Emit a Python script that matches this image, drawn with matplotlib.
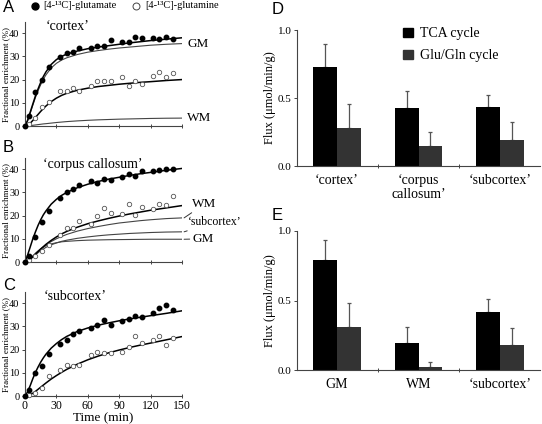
import numpy as np
import matplotlib
matplotlib.use("Agg")
import matplotlib.pyplot as plt
from matplotlib.lines import Line2D
from matplotlib.patches import Rectangle

plt.rcParams['font.family'] = ['Liberation Serif', 'DejaVu Serif']
plt.rcParams['axes.linewidth'] = 0.8

# --- time course data (A, B, C) ---
t_obs = [0, 3.5, 10, 16, 22.5, 33.5, 40, 46, 52, 63, 69, 75.5, 82, 93, 99, 105.5, 112, 122, 128.5, 135, 141.5]

glu_cortex = [0, 4.4, 14.8, 19.8, 25.5, 29.7, 31.3, 31.8, 33.7, 33.4, 34.4, 34.3, 37, 36.4, 36.4, 38.4, 38, 38, 37.4, 38.4, 37.3]
gln_cortex = [0, 0.8, 3.3, 8.2, 10.3, 15.1, 15.1, 16.5, 15.1, 17.2, 19.6, 19.4, 19.5, 20.9, 17.3, 19.2, 18.3, 21.5, 23.1, 20.9, 23]
glu_cc = [0, 2.4, 10.9, 17.3, 22.1, 27.4, 30, 31.3, 33, 34.7, 34, 35.9, 35.4, 36.7, 37.8, 37.1, 39, 39.3, 39.7, 40.2, 40.2]
gln_cc = [0, 0.8, 2.8, 4.7, 7.3, 11.6, 14.8, 14.5, 17.8, 16.3, 19.9, 23.3, 20.9, 20.8, 25.1, 20.2, 23.7, 22.7, 25.1, 24.7, 28.4]
glu_sub = [0, 2.4, 10, 12.9, 18, 22.3, 24.2, 26.7, 28.1, 29.1, 30.4, 32.9, 30.7, 32.5, 33.2, 34.5, 33.9, 35.7, 38, 39, 37]
gln_sub = [0, 0.5, 1.5, 3.5, 8.5, 11, 13.2, 12.8, 13.5, 17.5, 19, 18.7, 18.7, 19, 20.9, 25.8, 23, 24.2, 25.8, 22, 25.2]

# fitted / model curves
t_fit = [0, 2.5, 5, 7.5, 10, 12.5, 15, 17.5, 20, 25, 30, 35, 40, 50, 60, 70, 80, 90, 100, 110, 120, 135, 150]
fit_glu_cortex = [0, 2.5, 6, 9.5, 13, 16, 18.8, 21.3, 23.3, 26.5, 28.6, 30, 31, 32.3, 33.3, 34, 34.6, 35.2, 35.8, 36.3, 36.8, 37.4, 38]
fit_gln_cortex = [0, 0.4, 1.2, 2.4, 3.7, 5, 6.3, 7.5, 8.6, 10.5, 12, 13.2, 14.1, 15.4, 16.3, 17, 17.5, 18, 18.4, 18.8, 19.1, 19.6, 20]
model_gm_a = [0, 2.2, 5.5, 9, 12.3, 15.2, 17.8, 20.1, 22, 25, 27, 28.4, 29.4, 30.8, 31.8, 32.5, 33.1, 33.6, 34, 34.4, 34.8, 35.2, 35.5]
model_wm_a = [0, 0.05, 0.15, 0.3, 0.45, 0.6, 0.75, 0.9, 1.0, 1.25, 1.5, 1.7, 1.9, 2.2, 2.45, 2.65, 2.8, 2.95, 3.05, 3.15, 3.25, 3.35, 3.4]

fit_glu_cc = [0, 3, 6.5, 10, 13, 15.8, 18.2, 20.3, 22, 24.9, 27, 28.7, 30, 32, 33.5, 34.7, 35.7, 36.5, 37.3, 38, 38.6, 39.5, 40.3]
fit_gln_cc = [0, 0.4, 1.2, 2.3, 3.4, 4.5, 5.6, 6.6, 7.6, 9.3, 10.8, 12.1, 13.2, 15, 16.5, 17.7, 18.8, 19.8, 20.7, 21.5, 22.3, 23.3, 24.3]
model_wm_b = [0, 0.4, 1.2, 2.3, 3.4, 4.5, 5.5, 6.4, 7.3, 8.8, 10, 11, 11.9, 13.3, 14.4, 15.3, 16.1, 16.8, 17.3, 17.8, 18.2, 18.7, 19]
model_sub_b = [0, 0.4, 1.1, 2.1, 3.1, 4.0, 4.9, 5.6, 6.3, 7.4, 8.2, 8.9, 9.4, 10.2, 10.8, 11.3, 11.7, 12, 12.3, 12.5, 12.7, 12.9, 13]
model_gm_b = [0, 0.5, 1.4, 2.6, 3.8, 4.8, 5.7, 6.4, 7.0, 7.8, 8.3, 8.7, 8.9, 9.2, 9.4, 9.5, 9.6, 9.65, 9.7, 9.75, 9.8, 9.8, 9.8]

fit_glu_sub = [0, 1.8, 4.5, 7.5, 10.2, 12.5, 14.6, 16.4, 18, 20.6, 22.6, 24.3, 25.7, 27.8, 29.3, 30.5, 31.5, 32.4, 33.2, 33.9, 34.6, 35.6, 36.7]
fit_gln_sub = [0, 0.2, 0.6, 1.2, 2, 2.9, 3.8, 4.7, 5.6, 7.3, 8.8, 10.2, 11.5, 13.7, 15.6, 17.2, 18.6, 19.8, 20.9, 21.9, 22.8, 24.2, 25.6]

# --- flux bars (D, E) ---
regions_d = ["\u2018cortex\u2019", "\u2018corpus\ncallosum\u2019", "\u2018subcortex\u2019"]
tca_d = [0.73, 0.425, 0.435]
tca_d_err = [0.165, 0.13, 0.085]
gg_d = [0.28, 0.147, 0.19]
gg_d_err = [0.175, 0.105, 0.13]

regions_e = ["GM", "WM", "\u2018subcortex\u2019"]
tca_e = [0.79, 0.195, 0.415]
tca_e_err = [0.145, 0.115, 0.095]
gg_e = [0.31, 0.02, 0.18]
gg_e_err = [0.17, 0.04, 0.12]

W, H = 542, 424
fig = plt.figure(figsize=(W / 100, H / 100), dpi=100)


def px_axes(l, t, r, b):
    return fig.add_axes([l / W, 1 - b / H, (r - l) / W, (b - t) / H])


def style_time_axis(ax, show_xlabels):
    ax.set_xlim(0, 150)
    ax.set_ylim(0, 44.8)
    for s in ['top', 'right']:
        ax.spines[s].set_visible(False)
    for s in ['left', 'bottom']:
        ax.spines[s].set_color('#444444')
    ax.set_xticks([0, 30, 60, 90, 120, 150])
    ax.set_yticks([0, 10, 20, 30, 40])
    ax.tick_params(axis='y', direction='out', length=2.5, width=0.7, labelsize=7.5, pad=1.5, color='#444444')
    ax.tick_params(axis='x', direction='inout', length=3, width=0.7, labelsize=8.5, pad=1.5, color='#444444')
    if not show_xlabels:
        ax.set_xticklabels([])
    ax.set_ylabel('Fractional enrichment (%)', fontsize=6.5)
    ax.yaxis.set_label_coords(-0.095, 0.5)


def draw_obs(ax, glu, gln):
    ax.plot(t_obs, gln, 'o', ms=3.2, mfc='white', mec='#555555', mew=0.6, clip_on=False, zorder=4)
    ax.plot(t_obs, glu, 'o', ms=3.2, color='black', clip_on=False, zorder=5)


# A
axA = px_axes(25, 22, 182, 126)
axA.plot(t_fit, model_gm_a, color='#444444', lw=0.8)
axA.plot(t_fit, model_wm_a, color='#444444', lw=0.8)
axA.plot(t_fit, fit_glu_cortex, color='black', lw=1.1)
axA.plot(t_fit, fit_gln_cortex, color='black', lw=1.1)
draw_obs(axA, glu_cortex, gln_cortex)
style_time_axis(axA, False)
axA.text(41, 42.7, '\u2018cortex\u2019', fontsize=10, ha='center', va='center')
axA.text(155, 35.2, 'GM', fontsize=9.5, ha='left', va='center', clip_on=False)
axA.text(155, 3.3, 'WM', fontsize=9.5, ha='left', va='center', clip_on=False)

# B
axB = px_axes(25, 158, 182, 262)
axB.plot(t_fit, model_wm_b, color='#444444', lw=0.8)
axB.plot(t_fit, model_sub_b, color='#444444', lw=0.8)
axB.plot(t_fit, model_gm_b, color='#444444', lw=0.8)
axB.plot(t_fit, fit_glu_cc, color='black', lw=1.1)
axB.plot(t_fit, fit_gln_cc, color='black', lw=1.1)
draw_obs(axB, glu_cc, gln_cc)
style_time_axis(axB, False)
axB.text(65, 42.2, '\u2018corpus callosum\u2019', fontsize=10, ha='center', va='center')
lead = dict(arrowstyle='-', color='#333333', lw=0.7, shrinkA=0, shrinkB=0)
axB.annotate('WM', xy=(152, model_wm_b[-1]), xytext=(160, 25), fontsize=9.5,
             ha='left', va='center', arrowprops=lead, annotation_clip=False)
axB.annotate('\u2018subcortex\u2019', xy=(152, model_sub_b[-1]), xytext=(156, 17.2), fontsize=8.5,
             ha='left', va='center', arrowprops=lead, annotation_clip=False)
axB.annotate('GM', xy=(152, model_gm_b[-1]), xytext=(160, 10.0), fontsize=9.5,
             ha='left', va='center', arrowprops=lead, annotation_clip=False)

# C
axC = px_axes(25, 292, 182, 396)
axC.plot(t_fit, fit_glu_sub, color='black', lw=1.1)
axC.plot(t_fit, fit_gln_sub, color='black', lw=1.1)
draw_obs(axC, glu_sub, gln_sub)
style_time_axis(axC, True)
axC.set_xlabel('Time (min)', fontsize=9.5, labelpad=0)
axC.text(48, 42.9, '\u2018subcortex\u2019', fontsize=10, ha='center', va='center')

# legend on top of the time panels
fig.add_artist(Line2D([35 / W], [1 - 6 / H], marker='o', ms=5, color='black', transform=fig.transFigure))
fig.text(43 / W, 1 - 6 / H, '[4-\u00b9\u00b3C]-glutamate', fontsize=7.5, va='center', ha='left')
fig.add_artist(Line2D([136 / W], [1 - 6 / H], marker='o', ms=5, mfc='white', mec='#444444', mew=0.7,
                      transform=fig.transFigure))
fig.text(145 / W, 1 - 6 / H, '[4-\u00b9\u00b3C]-glutamine', fontsize=7.5, va='center', ha='left')


def draw_flux(ax, labels, tca, tca_err, gg, gg_err):
    x = np.arange(len(labels))
    w = 0.29
    ax.bar(x - w / 2, tca, w, color='black', zorder=2)
    ax.bar(x + w / 2, gg, w, color='#333333', zorder=2)
    ax.errorbar(x - w / 2, tca, yerr=[np.zeros(len(x)), tca_err], fmt='none', ecolor='#555555',
                elinewidth=0.9, capsize=1.5, capthick=0.9, zorder=1)
    ax.errorbar(x + w / 2, gg, yerr=[np.zeros(len(x)), gg_err], fmt='none', ecolor='#555555',
                elinewidth=0.9, capsize=1.5, capthick=0.9, zorder=1)
    ax.set_xlim(-0.49, 2.49)
    ax.set_ylim(0, 1.0)
    for s in ['top', 'right']:
        ax.spines[s].set_visible(False)
    for s in ['left', 'bottom']:
        ax.spines[s].set_color('#444444')
    ax.set_yticks([0, 0.5, 1.0])
    ax.set_yticklabels(['0.0', '0.5', '1.0'])
    ax.set_xticks(x)
    ax.set_xticklabels(labels, fontsize=10, linespacing=1.1)
    ax.set_xticks([0.5, 1.5], minor=True)
    ax.tick_params(axis='x', which='major', length=0, pad=6)
    ax.tick_params(axis='x', which='minor', length=2.5, width=0.7, direction='inout', color='#444444')
    ax.tick_params(axis='y', direction='out', length=2.5, width=0.7, labelsize=8, pad=1.5, color='#444444')
    ax.set_ylabel('Flux (\u03bcmol/min/g)', fontsize=9)
    ax.yaxis.set_label_coords(-0.088, 0.5)


axD = px_axes(297, 30, 540, 166)
draw_flux(axD, regions_d, tca_d, tca_d_err, gg_d, gg_d_err)
axE = px_axes(297, 231, 540, 370)
draw_flux(axE, regions_e, tca_e, tca_e_err, gg_e, gg_e_err)

# D legend
fig.add_artist(Rectangle((403 / W, 1 - 37 / H), 10 / W, 9 / H, color='black', transform=fig.transFigure))
fig.text(420 / W, 1 - 33 / H, 'TCA cycle', fontsize=10, va='center', ha='left')
fig.add_artist(Rectangle((403 / W, 1 - 59 / H), 10 / W, 9 / H, color='#333333', transform=fig.transFigure))
fig.text(420 / W, 1 - 55 / H, 'Glu/Gln cycle', fontsize=10, va='center', ha='left')

# panel letters
for letter, x, y in [('A', 3, 8), ('B', 3, 147), ('C', 3, 285), ('D', 272, 10), ('E', 272, 216)]:
    fig.text(x / W, 1 - y / H, letter, fontsize=12, family='Liberation Sans', va='center', ha='left')

fig.savefig('out.png', dpi=100)
